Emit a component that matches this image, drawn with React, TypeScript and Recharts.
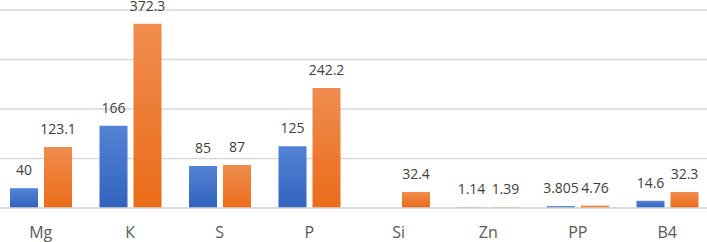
import React from "react";
import { BarChart, Bar, XAxis, YAxis, CartesianGrid, LabelList } from "recharts";

const categories = ["Mg", "К", "S", "P", "Si", "Zn", "PP", "B4"];
const seriesA: (number | null)[] = [40, 166, 85, 125, null, 1.14, 3.805, 14.6];
const seriesB: number[] = [123.1, 372.3, 87, 242.2, 32.4, 1.39, 4.76, 32.3];
const yTicks = [0, 100, 200, 300, 400];

const data = categories.map((c, i) => ({ name: c, a: seriesA[i], b: seriesB[i] }));

const FONT = "'Open Sans', 'Liberation Sans', sans-serif";

export default function App() {
  return (
    <div style={{ position: "absolute", left: -4, top: 0, width: 716, height: 242 }}>
      <BarChart
        width={716}
        height={242}
        data={data}
        margin={{ top: 10, right: 0, bottom: 0, left: 0 }}
        barSize={28}
        barGap={6}
      >
        <defs>
          <linearGradient id="gBlue" x1="0" y1="0" x2="0" y2="1">
            <stop offset="0%" stopColor="#5283d6" />
            <stop offset="100%" stopColor="#3263bd" />
          </linearGradient>
          <linearGradient id="gOrange" x1="0" y1="0" x2="0" y2="1">
            <stop offset="0%" stopColor="#f08c4f" />
            <stop offset="100%" stopColor="#ea6c18" />
          </linearGradient>
        </defs>
        <CartesianGrid vertical={false} stroke="#d9d9d9" strokeWidth={1.3} />
        <YAxis hide domain={[0, 400]} ticks={yTicks} />
        <XAxis
          dataKey="name"
          height={34}
          axisLine={{ stroke: "#d9d9d9", strokeWidth: 1.3 }}
          tickLine={false}
          tickSize={0}
          tickMargin={19}
          tick={{ fill: "#595959", fontSize: 16, fontFamily: FONT }}
          interval={0}
        />
        <Bar dataKey="a" fill="url(#gBlue)" isAnimationActive={false}>
          <LabelList dataKey="a" position="top" offset={13} fill="#404040" fontSize={14} fontFamily={FONT} />
        </Bar>
        <Bar dataKey="b" fill="url(#gOrange)" isAnimationActive={false}>
          <LabelList dataKey="b" position="top" offset={13} fill="#404040" fontSize={14} fontFamily={FONT} />
        </Bar>
      </BarChart>
    </div>
  );
}
